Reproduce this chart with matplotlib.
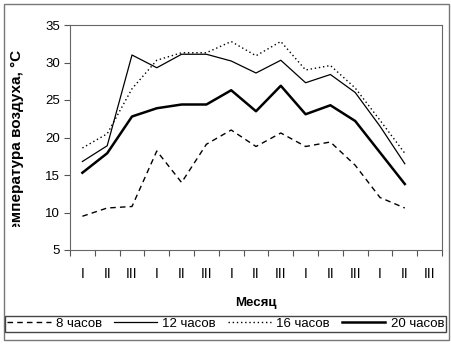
import numpy as np
import matplotlib.pyplot as plt
from matplotlib.patches import Rectangle
from matplotlib.transforms import Bbox

plt.rcParams['font.family'] = ['Liberation Sans', 'DejaVu Sans']

# Декады: I, II, III для пяти месяцев
decades = ['I', 'II', 'III'] * 5

# Температура воздуха по срокам наблюдений, °C
t08 = [9.5, 10.6, 10.8, 18.2, 14.0, 19.1, 21.0, 18.8, 20.6, 18.8, 19.4, 16.3, 12.0, 10.6]
t12 = [16.8, 18.9, 31.0, 29.3, 31.1, 31.1, 30.2, 28.6, 30.3, 27.3, 28.4, 26.0, 21.5, 16.5]
t16 = [18.6, 20.5, 26.5, 30.3, 31.3, 31.3, 32.8, 30.9, 32.8, 29.0, 29.6, 26.6, 22.3, 17.9]
t20 = [15.3, 17.9, 22.8, 23.9, 24.4, 24.4, 26.3, 23.5, 26.9, 23.1, 24.3, 22.2, 18.0, 13.8]

W, H = 452, 346
fig = plt.figure(figsize=(W / 100, H / 100), dpi=100)
ax = fig.add_axes([70 / W, 1 - 250 / H, 372 / W, 225 / H])

x = np.arange(len(t08))
ax.plot(x, t08, color='black', lw=1.0, dashes=(4, 3), label='8 часов')
ax.plot(x, t12, color='black', lw=0.9, label='12 часов')
ax.plot(x, t16, color='black', lw=1.0, dashes=(1, 2), label='16 часов')
ax.plot(x, t20, color='black', lw=1.8, label='20 часов')

ax.set_xlim(-0.5, len(decades) - 0.5)
ax.set_ylim(5, 35)
ax.set_yticks(range(5, 36, 5))
ax.set_xticks(np.arange(-0.5, len(decades), 1.0))
ax.set_xticklabels([])
ax.set_xticks(np.arange(len(decades)), minor=True)
ax.set_xticklabels(decades, minor=True, fontsize=10)
ax.tick_params(axis='x', which='minor', length=0, pad=12)
ax.tick_params(axis='x', which='major', length=4, width=0.8, color='#555555')
ax.tick_params(axis='y', length=4, width=0.8, color='#555555', labelsize=9.5, pad=3)
for s in ax.spines.values():
    s.set_color('#666666')
    s.set_linewidth(0.8)

ax.set_xlabel('Месяц', fontsize=9.5, fontweight='bold', labelpad=12)

# подпись оси Y обрезана снизу
ylab = fig.text(17 / W, 1 - 50 / H, 'Температура воздуха, °С', rotation=90,
                ha='center', va='top', fontsize=11, fontweight='bold')
ylab.set_clip_box(Bbox([[0, H - 227], [W, H]]))
ylab.set_clip_on(True)

fig.legend(loc='lower left', bbox_to_anchor=(5 / W, 1 - 332 / H, 441 / W, 18 / H),
           mode='expand', ncol=4, fontsize=9.5, frameon=True, fancybox=False,
           edgecolor='#444444', framealpha=1, handlelength=3.3, handletextpad=0.4,
           borderpad=0.15, borderaxespad=0)

fig.patches.append(Rectangle((4 / W, 1 - 340 / H), 445 / W, 336 / H, transform=fig.transFigure,
                             fill=False, edgecolor='#777777', lw=1.0))

fig.savefig('out.png', dpi=100)
